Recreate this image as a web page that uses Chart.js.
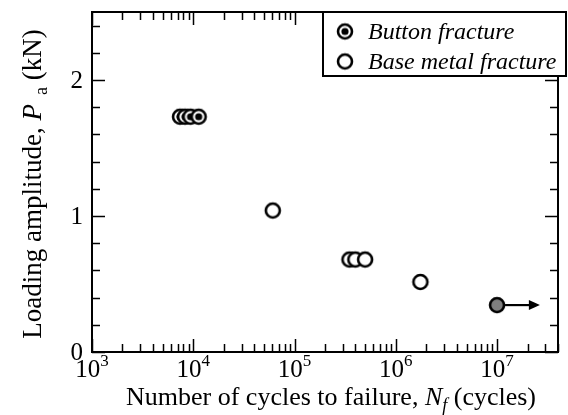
<!DOCTYPE html>
<html>
<head>
<meta charset="utf-8">
<script src="https://cdn.jsdelivr.net/npm/chart.js@4/dist/chart.umd.min.js"></script>
<style>
  html, body { margin: 0; padding: 0; background: #fff; }
  #wrap { width: 568px; height: 415px; }
</style>
</head>
<body>
<div id="wrap"><canvas id="sn_chart" width="568" height="415"></canvas></div>
<script>
// values
var buttonCycles = [7400, 8300, 9400, 11300]
var buttonLoad = [1.73, 1.73, 1.73, 1.73]
var baseCycles = [61000, 349000, 399000, 498000, 1750000]
var baseLoad = [1.04, 0.68, 0.68, 0.68, 0.515]
var runoutCycles = [1.0e7]
var runoutLoad = [0.345]
var runoutArrowEnd = 2.65e7

var xTicks = [1e3, 1e4, 1e5, 1e6, 1e7]
var xTickExp = ['3', '4', '5', '6', '7']
var yTicks = [0, 1, 2]
var yTickLabels = ['0', '1', '2']

var legendLabels = ['Button fracture', 'Base metal fracture']

var SERIF = '"Liberation Serif", "Times New Roman", serif'

function makeMarker(fill, dot) {
    var c = document.createElement('canvas')
    c.width = 20
    c.height = 20
    var g = c.getContext('2d')
    g.beginPath()
    g.arc(10, 10, 7, 0, Math.PI * 2)
    g.fillStyle = fill
    g.fill()
    g.lineWidth = 2.6
    g.strokeStyle = '#000'
    g.stroke()
    if (dot) {
        g.beginPath()
        g.arc(10, 10, 3.6, 0, Math.PI * 2)
        g.fillStyle = '#000'
        g.fill()
    }
    return c
}

var buttonMarker = makeMarker('#fff', true)
var baseMarker = makeMarker('#fff', false)
var runoutMarker = makeMarker('#7f7f7f', false)

function pts(xs, ys) {
    return xs.map((x, i) => ({ x: x, y: ys[i] }))
}

function drawParts(ctx, parts, cx, baseY) {
    var total = 0
    parts.forEach(p => { ctx.font = p.f; p.w = ctx.measureText(p.t).width; total += p.w })
    var x = cx - total / 2
    ctx.textAlign = 'left'
    ctx.textBaseline = 'alphabetic'
    parts.forEach(p => {
        ctx.font = p.f
        ctx.fillText(p.t, x, baseY + p.dy)
        x += p.w
    })
}

// frame, inward ticks, tick labels, titles, arrow and legend
var decorPlugin = {
    id: 'decor',
    afterDraw(chart) {
        var ctx = chart.ctx
        var a = chart.chartArea
        var xs = chart.scales.x
        var ys = chart.scales.y
        ctx.save()
        ctx.strokeStyle = '#000'
        ctx.fillStyle = '#000'

        // runout arrow
        var ax0 = xs.getPixelForValue(runoutCycles[0])
        var ax1 = xs.getPixelForValue(runoutArrowEnd)
        var ay = ys.getPixelForValue(runoutLoad[0])
        ctx.lineWidth = 2.2
        ctx.beginPath()
        ctx.moveTo(ax0 + 8, ay)
        ctx.lineTo(ax1 - 8, ay)
        ctx.stroke()
        ctx.beginPath()
        ctx.moveTo(ax1, ay)
        ctx.lineTo(ax1 - 11, ay - 5)
        ctx.lineTo(ax1 - 11, ay + 5)
        ctx.closePath()
        ctx.fill()

        // ticks
        ctx.lineWidth = 1.5
        var major = 13, minor = 8
        ctx.beginPath()
        for (var d = 3; d <= 7; d++) {
            for (var m = 1; m <= 9; m++) {
                var v = m * Math.pow(10, d)
                if (v > xs.max) break
                var px = Math.round(xs.getPixelForValue(v)) + 0.5
                var len = m == 1 ? major : minor
                ctx.moveTo(px, a.bottom); ctx.lineTo(px, a.bottom - len)
                ctx.moveTo(px, a.top); ctx.lineTo(px, a.top + len)
            }
        }
        for (var t = 0; t <= 25; t += 2) {
            var py = Math.round(ys.getPixelForValue(t / 10)) + 0.5
            var l = (t % 10 == 0) ? major : minor
            ctx.moveTo(a.left, py); ctx.lineTo(a.left + l, py)
            ctx.moveTo(a.right, py); ctx.lineTo(a.right - l, py)
        }
        ctx.stroke()

        // frame
        ctx.lineWidth = 2
        ctx.strokeRect(a.left, a.top, a.right - a.left, a.bottom - a.top)

        // y tick labels
        ctx.font = '25px ' + SERIF
        ctx.textAlign = 'right'
        ctx.textBaseline = 'alphabetic'
        yTicks.forEach((v, i) => {
            ctx.fillText(yTickLabels[i], a.left - 9, ys.getPixelForValue(v) + 8)
        })

        // x tick labels 10^n
        xTicks.forEach((v, i) => {
            var px = xs.getPixelForValue(v)
            ctx.font = '25px ' + SERIF
            var w1 = ctx.measureText('10').width
            ctx.font = '17px ' + SERIF
            var w2 = ctx.measureText(xTickExp[i]).width
            var x0 = px - (w1 + w2) / 2
            ctx.textAlign = 'left'
            ctx.font = '25px ' + SERIF
            ctx.fillText('10', x0, 377)
            ctx.font = '17px ' + SERIF
            ctx.fillText(xTickExp[i], x0 + w1, 366)
        })

        // x title
        drawParts(ctx, [
            { t: 'Number of cycles to failure, ', f: '26px ' + SERIF, dy: 0 },
            { t: 'N', f: 'italic 26px ' + SERIF, dy: 0 },
            { t: 'f', f: 'italic 18px ' + SERIF, dy: 6 },
            { t: ' (cycles)', f: '26px ' + SERIF, dy: 0 }
        ], 331, 405)

        // y title
        ctx.save()
        ctx.translate(33, 184)
        ctx.rotate(-Math.PI / 2)
        drawParts(ctx, [
            { t: 'Loading amplitude, ', f: '27px ' + SERIF, dy: 0 },
            { t: 'P', f: 'italic 27px ' + SERIF, dy: 0 },
            { t: '  a', f: '18px ' + SERIF, dy: 6 },
            { t: ' (kN)', f: '27px ' + SERIF, dy: 0 }
        ], 0, 8)
        ctx.restore()

        // legend box
        var bx = 323, by = 12, bw = 243, bh = 64
        ctx.fillStyle = '#fff'
        ctx.fillRect(bx, by, bw, bh)
        ctx.lineWidth = 2
        ctx.strokeRect(bx, by, bw, bh)
        var markers = [buttonMarker, baseMarker]
        legendLabels.forEach((lab, i) => {
            var cy = 31.5 + i * 30
            ctx.drawImage(markers[i], 345 - 10, cy - 10)
            ctx.fillStyle = '#000'
            ctx.font = 'italic 24px ' + SERIF
            ctx.textAlign = 'left'
            ctx.fillText(lab, 368, cy + 7)
        })
        ctx.restore()
    }
}

var ctx = document.getElementById('sn_chart').getContext('2d')
var myChart = new Chart(ctx, {
    type: 'scatter',
    data: {
        datasets: [
            {
                label: legendLabels[0],
                data: pts(buttonCycles, buttonLoad),
                pointStyle: buttonMarker
            },
            {
                label: legendLabels[1],
                data: pts(baseCycles, baseLoad),
                pointStyle: baseMarker
            },
            {
                label: 'Run-out',
                data: pts(runoutCycles, runoutLoad),
                pointStyle: runoutMarker
            }
        ]
    },
    options: {
        responsive: false,
        animation: false,
        devicePixelRatio: 1,
        layout: { padding: { top: 12, right: 10, left: 0, bottom: 0 } },
        plugins: {
            legend: { display: false },
            tooltip: { enabled: false }
        },
        scales: {
            x: {
                type: 'logarithmic',
                min: 1e3,
                max: 4e7,
                grid: { display: false },
                border: { display: false },
                ticks: { display: false },
                afterFit: s => { s.height = 63 }
            },
            y: {
                min: 0,
                max: 2.5,
                grid: { display: false },
                border: { display: false },
                ticks: { display: false },
                afterFit: s => { s.width = 92 }
            }
        }
    },
    plugins: [decorPlugin]
})
</script>
</body>
</html>
